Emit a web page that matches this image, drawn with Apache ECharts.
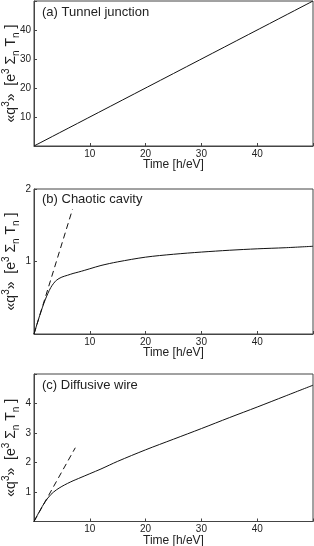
<!DOCTYPE html>
<html>
<head>
<meta charset="utf-8">
<script src="https://cdn.jsdelivr.net/npm/echarts@6/dist/echarts.min.js"></script>
<style>
html,body{margin:0;padding:0;background:#fff;}
#chart{width:314px;height:546px;}
</style>
</head>
<body>
<div id="chart"></div>
<script>
// ---- data ----
var panelTitles = ['(a) Tunnel junction', '(b) Chaotic cavity', '(c) Diffusive wire'];
var xTicks = [0, 10, 20, 30, 40, 50];
var yMaxA = 50, yMaxB = 2, yMaxC = 5;

var timeA = [0, 50];
var qA = [0, 50];

var timeB = [0, 1, 2, 3, 4, 5, 6, 7, 8, 9, 10, 12, 15, 20, 25, 30, 35, 40, 45, 50];
var qB = [0, 0.25, 0.47, 0.64, 0.74, 0.785, 0.81, 0.835, 0.855, 0.877, 0.90, 0.945, 0.995, 1.06, 1.10, 1.13, 1.155, 1.175, 1.19, 1.21];
var dashTimeB = [0, 6.9];
var dashQB = [0, 1.72];

var timeC = [0, 1, 2, 3, 4, 5, 6, 7, 8, 10, 12, 15, 20, 25, 30, 35, 40, 45, 50];
var qC = [0, 0.35, 0.67, 0.91, 1.07, 1.19, 1.29, 1.38, 1.46, 1.62, 1.78, 2.04, 2.43, 2.79, 3.15, 3.52, 3.88, 4.25, 4.62];
var dashTimeC = [0, 7.4];
var dashQC = [0, 2.5];

// ---- build ----
function pairs(xs, ys) { return xs.map(function (x, i) { return [x, ys[i]]; }); }

var grids = [
  { left: 34, top: 1, width: 279, height: 145 },
  { left: 34, top: 189, width: 279, height: 145 },
  { left: 34, top: 374, width: 279, height: 147.5 }
];
grids.forEach(function (g) {
  g.show = true; g.borderColor = '#444'; g.borderWidth = 1; g.backgroundColor = 'transparent';
  g.containLabel = false; g.outerBoundsMode = 'none';
});

var fontFam = 'Liberation Sans, Arial, sans-serif';
var yName = '{b|«q}{s|3}{b|»  [e}{s|3}{b| Σ}{d|n}{b| T}{d|n}{b| ]}';
var richY = {
  b: { fontSize: 14, lineHeight: 20, color: '#222', fontFamily: fontFam },
  s: { fontSize: 10, lineHeight: 11, verticalAlign: 'top', color: '#222', fontFamily: fontFam },
  d: { fontSize: 10, lineHeight: 11, verticalAlign: 'bottom', color: '#222', fontFamily: fontFam }
};

function xAxis(i) {
  return {
    type: 'value', gridIndex: i, min: xTicks[0], max: xTicks[xTicks.length - 1], interval: 10,
    name: 'Time [h/eV]', nameLocation: 'middle', nameGap: 13, nameMoveOverlap: false,
    nameTextStyle: { fontSize: 12, color: '#222', fontFamily: fontFam },
    axisLine: { show: true, lineStyle: { color: '#444', width: 1 } },
    axisTick: { show: true, inside: true, length: 3, lineStyle: { color: '#444' } },
    axisLabel: { fontSize: 10, color: '#222', margin: 3, fontFamily: fontFam,
      formatter: function (v) { return (v === 0 || v === 50) ? '' : String(v); } },
    splitLine: { show: false }
  };
}
function yAxis(i, max, interval, showMax) {
  return {
    type: 'value', gridIndex: i, min: 0, max: max, interval: interval,
    name: yName, nameLocation: 'middle', nameRotate: 90, nameGap: 13, nameMoveOverlap: false,
    nameTextStyle: { rich: richY },
    axisLine: { show: true, lineStyle: { color: '#444', width: 1 } },
    axisTick: { show: true, inside: true, length: 3, lineStyle: { color: '#444' } },
    axisLabel: { fontSize: 10, color: '#222', margin: 3, fontFamily: fontFam,
      formatter: function (v) { return (v === 0 || (v === max && !showMax)) ? '' : String(v); } },
    splitLine: { show: false }
  };
}

function line(i, xs, ys, dashed) {
  return {
    type: 'line', xAxisIndex: i, yAxisIndex: i, data: pairs(xs, ys),
    showSymbol: false, symbol: 'none', smooth: dashed ? false : 0.3,
    lineStyle: { color: '#111', width: 1, type: dashed ? [6, 4] : 'solid' },
    animation: false, silent: true
  };
}

var option = {
  animation: false,
  backgroundColor: '#fff',
  title: panelTitles.map(function (t, i) {
    var tops = [6, 193, 379];
    return { text: t, left: 42, top: tops[i], padding: 0,
      textStyle: { fontSize: 13, fontWeight: 'normal', color: '#222', fontFamily: fontFam } };
  }),
  grid: grids,
  xAxis: [xAxis(0), xAxis(1), xAxis(2)],
  yAxis: [yAxis(0, yMaxA, 10, false), yAxis(1, yMaxB, 1, true), yAxis(2, yMaxC, 1, false)],
  series: [
    line(0, timeA, qA, false),
    line(1, timeB, qB, false),
    line(1, dashTimeB, dashQB, true),
    line(2, timeC, qC, false),
    line(2, dashTimeC, dashQC, true)
  ]
};

var chart = echarts.init(document.getElementById('chart'), null, { renderer: 'canvas' });
chart.setOption(option);
</script>
</body>
</html>
